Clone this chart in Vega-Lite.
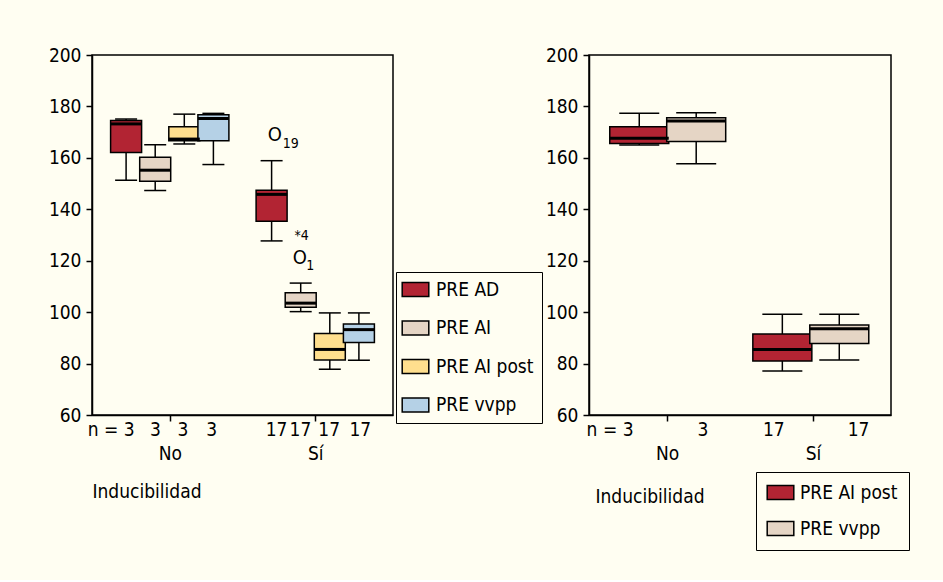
{
  "$schema": "https://vega.github.io/schema/vega-lite/v6.json",
  "background": "#FFFEF2",
  "padding": {"left": 47, "top": 45, "right": 33, "bottom": 28},
  "autosize": {"type": "pad"},
  "bounds": "flush",
  "spacing": 196,
  "datasets": {
    "boxL": [
      {"pos": 1, "series": "PRE AD", "min": 151.3, "q1": 162.1, "median": 173.2, "q3": 174.5, "max": 175.1},
      {"pos": 2, "series": "PRE AI", "min": 147.3, "q1": 150.9, "median": 155.2, "q3": 160.2, "max": 165.1},
      {"pos": 3, "series": "PRE AI post", "min": 165.4, "q1": 166.7, "median": 167.3, "q3": 172.1, "max": 177.0},
      {"pos": 4, "series": "PRE vvpp", "min": 157.4, "q1": 166.7, "median": 175.3, "q3": 176.8, "max": 177.3},
      {"pos": 6, "series": "PRE AD", "min": 127.7, "q1": 135.3, "median": 145.8, "q3": 147.4, "max": 158.9},
      {"pos": 7, "series": "PRE AI", "min": 100.2, "q1": 101.9, "median": 103.5, "q3": 107.5, "max": 111.3},
      {"pos": 8, "series": "PRE AI post", "min": 77.8, "q1": 81.4, "median": 85.5, "q3": 91.7, "max": 99.7},
      {"pos": 9, "series": "PRE vvpp", "min": 81.3, "q1": 88.2, "median": 93.2, "q3": 95.4, "max": 99.7}
    ],
    "boxR": [
      {"pos": 1.55, "series": "PRE AI post", "min": 165.0, "q1": 165.6, "median": 167.6, "q3": 172.1, "max": 177.3},
      {"pos": 3.5, "series": "PRE vvpp", "min": 157.7, "q1": 166.4, "median": 174.3, "q3": 175.6, "max": 177.5},
      {"pos": 6.45, "series": "PRE AI post", "min": 77.1, "q1": 81.0, "median": 85.5, "q3": 91.5, "max": 99.2},
      {"pos": 8.4, "series": "PRE vvpp", "min": 81.4, "q1": 87.8, "median": 93.5, "q3": 95.0, "max": 99.2}
    ],
    "nL": [
      {"pos": 0.49, "label": "n = 3"},
      {"pos": 2.01, "label": "3"},
      {"pos": 2.95, "label": "3"},
      {"pos": 3.94, "label": "3"},
      {"pos": 6.17, "label": "17"},
      {"pos": 6.99, "label": "17"},
      {"pos": 7.98, "label": "17"},
      {"pos": 9.05, "label": "17"}
    ],
    "nR": [
      {"pos": 0.55, "label": "n = 3"},
      {"pos": 3.73, "label": "3"},
      {"pos": 6.16, "label": "17"},
      {"pos": 9.06, "label": "17"}
    ],
    "ann": [
      {"pos": 6.11, "val": 169.0, "label": "O", "kind": "big"},
      {"pos": 6.66, "val": 165.4, "label": "19", "kind": "sub"},
      {"pos": 7.03, "val": 129.6, "label": "*4", "kind": "sub"},
      {"pos": 6.97, "val": 121.1, "label": "O", "kind": "big"},
      {"pos": 7.33, "val": 117.9, "label": "1", "kind": "sub"}
    ]
  },
  "config": {
    "font": "DejaVu Sans Condensed, Liberation Sans, sans-serif",
    "view": {"stroke": "black", "strokeWidth": 1.5},
    "axis": {
      "domainColor": "black", "domainWidth": 1.5,
      "tickColor": "black", "tickWidth": 1.5, "tickSize": 6,
      "labelFont": "DejaVu Sans Condensed, Liberation Sans, sans-serif", "labelFontSize": 19, "labelColor": "black",
      "titleFont": "DejaVu Sans Condensed, Liberation Sans, sans-serif", "titleFontSize": 19, "titleFontWeight": "normal", "titleColor": "black",
      "grid": false
    },
    "legend": {
      "labelFont": "DejaVu Sans Condensed, Liberation Sans, sans-serif", "labelFontSize": 19, "labelColor": "black",
      "strokeColor": "black", "fillColor": "#FFFEF2",
      "symbolType": "M-1.9,-1L1.9,-1L1.9,1L-1.9,1Z", "symbolSize": 196,
      "symbolStrokeColor": "black", "symbolStrokeWidth": 1.5, "symbolOpacity": 1
    },
    "text": {"font": "DejaVu Sans Condensed, Liberation Sans, sans-serif", "color": "black"}
  },
  "resolve": {"scale": {"color": "independent"}, "legend": {"color": "independent"}},
  "hconcat": [
    {
      "width": 301,
      "height": 360,
      "layer": [
        {
          "data": {"name": "boxL"},
          "mark": {"type": "rule", "color": "black", "strokeWidth": 1.5},
          "encoding": {
            "x": {"field": "pos", "type": "quantitative", "scale": {"domain": [0, 10], "nice": false, "zero": false},
              "axis": {"values": [2.5, 7.5], "labelExpr": "datum.value < 5 ? 'No' : 'Sí'", "labelPadding": 23, "title": "Inducibilidad", "titleAnchor": "start", "titleAlign": "left", "titleX": 0, "titleY": 76, "titleBaseline": "middle"}},
            "y": {"field": "min", "type": "quantitative", "scale": {"domain": [60, 200], "nice": false, "zero": false},
              "axis": {"values": [60, 80, 100, 120, 140, 160, 180, 200], "title": null, "labelPadding": 5}},
            "y2": {"field": "max"}
          }
        },
        {
          "data": {"name": "boxL"},
          "mark": {"type": "tick", "orient": "horizontal", "color": "black", "size": 22, "thickness": 1.5, "opacity": 1},
          "encoding": {"x": {"field": "pos", "type": "quantitative"}, "y": {"field": "min", "type": "quantitative"}}
        },
        {
          "data": {"name": "boxL"},
          "mark": {"type": "tick", "orient": "horizontal", "color": "black", "size": 22, "thickness": 1.5, "opacity": 1},
          "encoding": {"x": {"field": "pos", "type": "quantitative"}, "y": {"field": "max", "type": "quantitative"}}
        },
        {
          "data": {"name": "boxL"},
          "mark": {"type": "bar", "width": 31, "stroke": "black", "strokeWidth": 1.5, "opacity": 1},
          "encoding": {
            "x": {"field": "pos", "type": "quantitative"},
            "y": {"field": "q1", "type": "quantitative"},
            "y2": {"field": "q3"},
            "color": {"field": "series", "type": "nominal",
              "scale": {"domain": ["PRE AD", "PRE AI", "PRE AI post", "PRE vvpp"], "range": ["#B22433", "#E5D5C5", "#FFDF8E", "#B5D1E6"]},
              "legend": {"title": null, "orient": "none", "legendX": 304, "legendY": 217, "padding": 8, "rowPadding": 17.5, "symbolOffset": 2, "labelOffset": 11}}
          }
        },
        {
          "data": {"name": "boxL"},
          "mark": {"type": "tick", "orient": "horizontal", "color": "black", "size": 31, "thickness": 3, "opacity": 1},
          "encoding": {"x": {"field": "pos", "type": "quantitative"}, "y": {"field": "median", "type": "quantitative"}}
        },
        {
          "data": {"name": "nL"},
          "mark": {"type": "text", "fontSize": 19, "baseline": "middle", "dy": 15, "clip": false},
          "encoding": {"x": {"field": "pos", "type": "quantitative"}, "y": {"datum": 60}, "text": {"field": "label"}}
        },
        {
          "data": {"name": "ann"},
          "transform": [{"filter": "datum.kind == 'big'"}],
          "mark": {"type": "text", "fontSize": 20, "baseline": "middle"},
          "encoding": {"x": {"field": "pos", "type": "quantitative"}, "y": {"field": "val", "type": "quantitative"}, "text": {"field": "label"}}
        },
        {
          "data": {"name": "ann"},
          "transform": [{"filter": "datum.kind == 'sub'"}],
          "mark": {"type": "text", "fontSize": 14, "baseline": "middle"},
          "encoding": {"x": {"field": "pos", "type": "quantitative"}, "y": {"field": "val", "type": "quantitative"}, "text": {"field": "label"}}
        }
      ]
    },
    {
      "width": 302,
      "height": 360,
      "layer": [
        {
          "data": {"name": "boxR"},
          "mark": {"type": "rule", "color": "black", "strokeWidth": 1.5},
          "encoding": {
            "x": {"field": "pos", "type": "quantitative", "scale": {"domain": [0, 10], "nice": false, "zero": false},
              "axis": {"values": [2.5, 7.5], "labelExpr": "datum.value < 5 ? 'No' : 'Sí'", "labelPadding": 23, "title": "Inducibilidad", "titleAnchor": "start", "titleAlign": "left", "titleX": 6, "titleY": 81, "titleBaseline": "middle"}},
            "y": {"field": "min", "type": "quantitative", "scale": {"domain": [60, 200], "nice": false, "zero": false},
              "axis": {"values": [60, 80, 100, 120, 140, 160, 180, 200], "title": null, "labelPadding": 5}},
            "y2": {"field": "max"}
          }
        },
        {
          "data": {"name": "boxR"},
          "mark": {"type": "tick", "orient": "horizontal", "color": "black", "size": 40, "thickness": 1.5, "opacity": 1},
          "encoding": {"x": {"field": "pos", "type": "quantitative"}, "y": {"field": "min", "type": "quantitative"}}
        },
        {
          "data": {"name": "boxR"},
          "mark": {"type": "tick", "orient": "horizontal", "color": "black", "size": 40, "thickness": 1.5, "opacity": 1},
          "encoding": {"x": {"field": "pos", "type": "quantitative"}, "y": {"field": "max", "type": "quantitative"}}
        },
        {
          "data": {"name": "boxR"},
          "mark": {"type": "bar", "width": 59, "stroke": "black", "strokeWidth": 1.5, "opacity": 1},
          "encoding": {
            "x": {"field": "pos", "type": "quantitative"},
            "y": {"field": "q1", "type": "quantitative"},
            "y2": {"field": "q3"},
            "color": {"field": "series", "type": "nominal",
              "scale": {"domain": ["PRE AI post", "PRE vvpp"], "range": ["#B22433", "#E5D5C5"]},
              "legend": {"title": null, "orient": "none", "legendX": 167, "legendY": 417, "padding": 11, "rowPadding": 15, "symbolOffset": 4, "labelOffset": 10}}
          }
        },
        {
          "data": {"name": "boxR"},
          "mark": {"type": "tick", "orient": "horizontal", "color": "black", "size": 59, "thickness": 3, "opacity": 1},
          "encoding": {"x": {"field": "pos", "type": "quantitative"}, "y": {"field": "median", "type": "quantitative"}}
        },
        {
          "data": {"name": "nR"},
          "mark": {"type": "text", "fontSize": 19, "baseline": "middle", "dy": 15, "clip": false},
          "encoding": {"x": {"field": "pos", "type": "quantitative"}, "y": {"datum": 60}, "text": {"field": "label"}}
        }
      ]
    }
  ]
}
